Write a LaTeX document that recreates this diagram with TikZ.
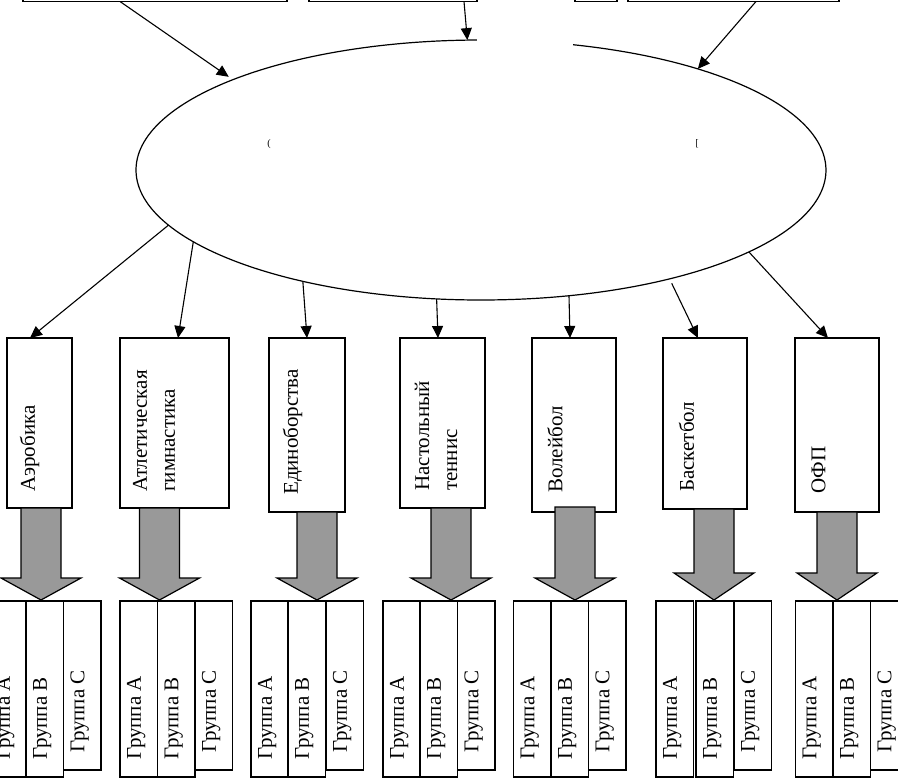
\documentclass[tikz,border=0pt]{standalone}
\usepackage{fontspec}
\setmainfont{Liberation Serif}
\usetikzlibrary{arrows.meta,shapes.geometric,calc}
\definecolor{arrowgray}{RGB}{153,153,153}
\tikzset{
  conn/.style={line width=1.1pt, -{Triangle[length=12pt,width=11pt]}},
  sportbox/.style={draw, line width=1.2pt, anchor=north west, inner sep=0pt, outer sep=0pt},
  grpbox/.style={draw, line width=1.2pt, anchor=north west, inner sep=0pt, outer sep=0pt, minimum width=37.5pt},
  lbl/.style={rotate=90, anchor=west, inner sep=0pt, font=\fontsize{21}{28}\selectfont, align=left},
  topbox/.style={draw, line width=1.2pt, anchor=south west, inner sep=0pt, outer sep=0pt, minimum height=40pt},
  fat/.style={draw, line width=1.2pt, fill=arrowgray, line join=miter},
  frag/.style={inner sep=0pt, font=\fontsize{10}{12}\selectfont},
}
\newcommand\fatarrow[3]{%
  \draw[fat] ({#1-20},{-#2}) -- ({#1+20},{-#2}) -- ({#1+20},{-#3}) -- ({#1+40},{-#3})
    -- (#1,-600) -- ({#1-40},{-#3}) -- ({#1-20},{-#3}) -- cycle;}
\begin{document}
\begin{tikzpicture}[x=1pt,y=1pt]
\useasboundingbox (0,0) rectangle (898,-780);
\clip (0,0) rectangle (898,-780);

% top boxes (cut off)
\node[topbox, minimum width=264pt] (t1) at (23,-1.5) {};
\node[topbox, minimum width=168pt] (t2) at (309,-1.5) {};
\node[topbox, minimum width=42pt]  (t3) at (575,-1.5) {};
\node[topbox, minimum width=211pt] (t4) at (628,-1.5) {};

% ellipse
\node[ellipse, minimum width=690pt, minimum height=260pt, inner sep=0pt, outer sep=0pt] (ell) at (481,-170) {};
\draw[line width=1.2pt] (ell.center) ++(90.7:345pt and 130pt)
  arc[start angle=90.7, end angle=434.5, x radius=345pt, y radius=130pt];
\node[frag] (f1) at (269,-144) {(};
\node[frag] (f2) at (697,-144) {[};

% arrows into ellipse
\draw[conn, shorten >=5pt] ([xshift=-35pt]t1.south) -- (ell.160.5);
\draw[conn] ([xshift=71pt]t2.south) -- (ell.96.5);
\draw[conn] ([xshift=22.5pt]t4.south) -- (ell.25.6);

% sport boxes
\node[sportbox, minimum width=65pt,  minimum height=170pt] (b1) at (7,-338) {};
\node[sportbox, minimum width=109pt, minimum height=170pt] (b2) at (120,-338) {};
\node[sportbox, minimum width=76pt,  minimum height=174pt] (b3) at (269,-338) {};
\node[sportbox, minimum width=85pt,  minimum height=170pt] (b4) at (400,-338) {};
\node[sportbox, minimum width=84pt,  minimum height=174pt] (b5) at (532,-338) {};
\node[sportbox, minimum width=84pt,  minimum height=171pt] (b6) at (663,-338) {};
\node[sportbox, minimum width=84pt,  minimum height=174pt] (b7) at (795,-338) {};

\node[lbl] (l1) at (29.5,-492) {Аэробика};
\node[lbl] (l2) at (154,-492) {Атлетическая\\гимнастика};
\node[lbl] (l3) at (292.5,-495) {Единоборства};
\node[lbl] (l4) at (436,-491) {Настольный\\теннис};
\node[lbl] (l5) at (555,-493) {Волейбол};
\node[lbl] (l6) at (686.5,-492) {Баскетбол};
\node[lbl] (l7) at (818.5,-494) {ОФП};

% arrows from ellipse to sport boxes
\draw[conn] (ell.190.6) -- ([xshift=-9.5pt]b1.north);
\draw[conn] (ell.194.4) -- ([xshift=3.5pt]b2.north);
\draw[conn] (ell.212.6) -- (b3.north);
\draw[conn] (ell.251.6) -- ([xshift=-4.5pt]b4.north);
\draw[conn] (ell.305.8) -- ([xshift=-4pt]b5.north);
\draw[conn, shorten <=5pt] (ell.330.6) -- ([xshift=-7pt]b6.north);
\draw[conn] (ell.343.3) -- ([xshift=-9pt]b7.north);

% group boxes
\foreach \g/\xa/\xb/\xc in {1/-11/26/63.5, 2/120/157.5/195, 3/251/288/326,
    4/383/420/457.5, 5/513.5/551/588.5, 6/656/696/734, 7/795.5/833/870.5} {
  \node[grpbox, minimum height=169pt] (gc\g) at (\xc,-601) {};
  \node[grpbox, minimum height=176pt] (ga\g) at (\xa,-601) {};
  \node[grpbox, minimum height=176pt] (gb\g) at (\xb,-601) {};
  \node[lbl] (la\g) at ({\xa+16.25},-760) {Группа A};
  \node[lbl] (lb\g) at ({\xb+16.25},-760) {Группа B};
  \node[lbl] (lc\g) at ({\xc+16.25},-753) {Группа C};
}

% fat arrows
\fatarrow{41}{508}{578}
\fatarrow{159.5}{508}{578}
\fatarrow{317}{512}{578}
\fatarrow{451}{508}{578}
\fatarrow{575}{507}{578}
\fatarrow{714}{509}{573}
\fatarrow{837}{512}{573}
\end{tikzpicture}
\end{document}
